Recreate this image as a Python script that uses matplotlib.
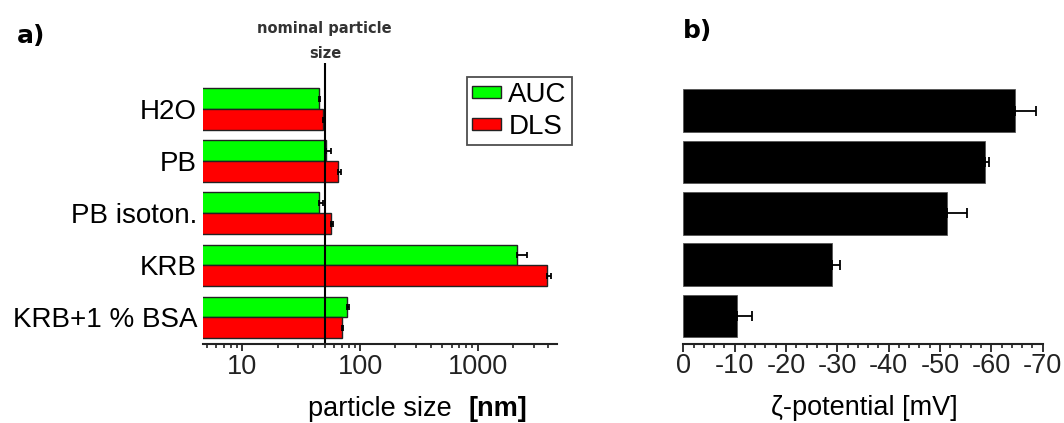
import numpy as np
import matplotlib
matplotlib.use("Agg")
import matplotlib.pyplot as plt
from matplotlib.ticker import FixedLocator, LogLocator, MultipleLocator, NullFormatter

plt.rcParams['font.family'] = ['Liberation Sans', 'DejaVu Sans']

# data
media = ['H2O', 'PB', 'PB isoton.', 'KRB', 'KRB+1 % BSA']
auc_size = [45, 51.5, 45, 2160, 78]
auc_err = [1, 5, 3, 470, 2]
dls_size = [48, 65.5, 57, 3900, 70]
dls_err = [2, 4, 2, 320, 1]
nominal_size = 50
size_ticks = [10, 100, 1000]
size_ticklabels = ['10', '100', '1000']

zeta = [-64.6, -58.8, -51.4, -29.0, -10.5]
zeta_err = [4.1, 0.7, 3.8, 1.5, 2.8]
zeta_ticks = [0, -10, -20, -30, -40, -50, -60, -70]
zeta_ticklabels = ['0', '-10', '-20', '-30', '-40', '-50', '-60', '-70']

W, H = 1064, 423
fig = plt.figure(figsize=(W / 100, H / 100), dpi=100)


def px_axes(x0, x1, ytop, ybot):
    return fig.add_axes([x0 / W, 1 - ybot / H, (x1 - x0) / W, (ybot - ytop) / H])


tick_fs = 19.5
lab_fs = 20

# ---- a) particle size ----
ax1 = px_axes(202.7, 556.7, 63, 343.5)
y = np.arange(len(media))
bh = 0.4
ax1.barh(y - bh / 2, auc_size, height=bh, left=0, color='#00ff00', edgecolor='#222222',
         linewidth=1.0, label='AUC')
ax1.barh(y + bh / 2, dls_size, height=bh, left=0, color='#ff0000', edgecolor='#222222',
         linewidth=1.0, label='DLS')
ax1.errorbar(auc_size, y - bh / 2, xerr=[np.zeros(len(media)), auc_err], fmt='none',
             ecolor='black', elinewidth=1.3, capsize=2.5, capthick=1.3)
ax1.errorbar(dls_size, y + bh / 2, xerr=[np.zeros(len(media)), dls_err], fmt='none',
             ecolor='black', elinewidth=1.3, capsize=2.5, capthick=1.3)
ax1.axvline(nominal_size, color='black', linewidth=1.5)
ax1.set_xscale('log')
ax1.set_xlim(4.6, 4700)
ax1.set_ylim(4.5, -0.885)
ax1.xaxis.set_major_locator(FixedLocator(size_ticks))
ax1.set_xticklabels(size_ticklabels)
ax1.xaxis.set_minor_locator(LogLocator(base=10, subs=np.arange(2, 10)))
ax1.xaxis.set_minor_formatter(NullFormatter())
ax1.set_yticks(y)
ax1.set_yticklabels(media, fontsize=lab_fs)
ax1.tick_params(axis='y', length=0, pad=4)
ax1.tick_params(axis='x', which='major', length=5, width=1.3, labelsize=tick_fs, pad=2.5,
                colors='#222222')
ax1.tick_params(axis='x', which='minor', length=3, width=1.2, colors='#222222')
for s in ['top', 'right', 'left']:
    ax1.spines[s].set_visible(False)
ax1.spines['bottom'].set_linewidth(1.5)
ax1.spines['bottom'].set_color('#222222')

leg = ax1.legend(loc='upper left', bbox_to_anchor=((466.7 - 202.7) / 354, 1 - (76.7 - 63) / 280.5),
                 fontsize=lab_fs, frameon=True, fancybox=False, handlelength=1.05,
                 handleheight=0.3, handletextpad=0.25, labelspacing=0.2, borderpad=0.2,
                 borderaxespad=0, markerfirst=True)
leg.get_frame().set_edgecolor('#222222')
leg.get_frame().set_linewidth(1.3)

fig.text(324 / W, 1 - 29 / H, 'nominal particle', ha='center', va='center',
         fontsize=10.5, fontweight='bold', family='DejaVu Sans', color='#333333')
fig.text(325 / W, 1 - 54 / H, 'size', ha='center', va='center',
         fontsize=10.5, fontweight='bold', family='DejaVu Sans', color='#333333')
fig.text(308 / W, 1 - 416 / H, 'particle size', ha='left', va='baseline', fontsize=tick_fs)
fig.text(468 / W, 1 - 416 / H, '[nm]', ha='left', va='baseline', fontsize=tick_fs,
         fontweight='bold')
fig.text(17 / W, 1 - 36.5 / H, 'a)', ha='left', va='center', fontsize=18,
         fontweight='bold', family='DejaVu Sans')

# ---- b) zeta potential ----
ax2 = px_axes(683.3, 1042.7, 63, 344)
ax2.barh(y, zeta, height=0.83, left=0, color='black', edgecolor='#555555', linewidth=0.6)
ax2.errorbar(zeta, y, xerr=[zeta_err, np.zeros(len(zeta))], fmt='none', ecolor='black',
             elinewidth=1.3, capsize=3.5, capthick=1.3)
ax2.set_xlim(0, -70)
ax2.set_ylim(4.55, -0.93)
ax2.xaxis.set_major_locator(FixedLocator(zeta_ticks))
ax2.set_xticklabels(zeta_ticklabels)
ax2.xaxis.set_minor_locator(MultipleLocator(2))
ax2.set_yticks([])
ax2.tick_params(axis='x', which='major', length=6, width=1.3, labelsize=tick_fs, pad=0.5,
                colors='#222222')
ax2.tick_params(axis='x', which='minor', length=3, width=1.2, colors='#222222')
for s in ['top', 'right', 'left']:
    ax2.spines[s].set_visible(False)
ax2.spines['bottom'].set_linewidth(1.5)
ax2.spines['bottom'].set_color('#222222')

fig.text(864 / W, 1 - 415 / H, 'ζ-potential [mV]', ha='center', va='baseline', fontsize=tick_fs)
fig.text(683 / W, 1 - 31 / H, 'b)', ha='left', va='center', fontsize=18,
         fontweight='bold', family='DejaVu Sans')

fig.savefig('out.png', dpi=100)
